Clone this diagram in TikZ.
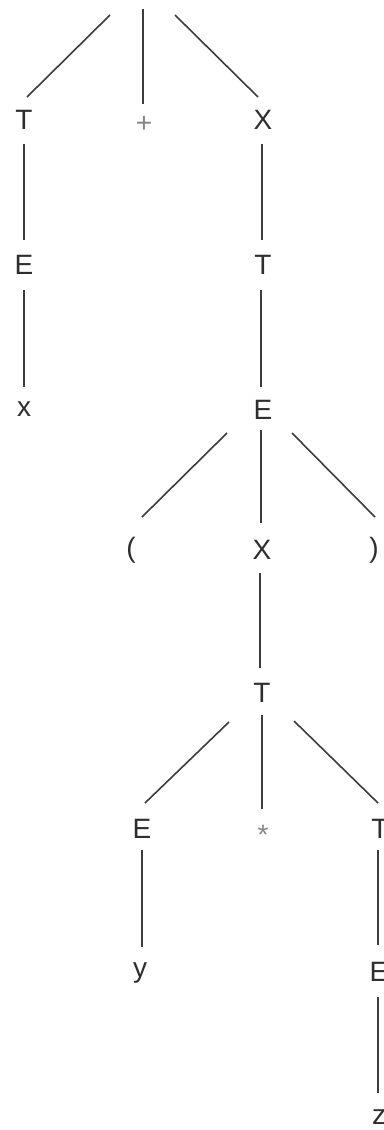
\documentclass[tikz,border=0pt]{standalone}
\usepackage{fontspec}
\setmainfont{Liberation Sans}
\usetikzlibrary{calc}
\definecolor{ink}{HTML}{2E2E2E}
\definecolor{linec}{HTML}{3C3C3C}
\definecolor{lightink}{HTML}{858585}
\begin{document}
\begin{tikzpicture}[x=1pt,y=-1pt,
  lbl/.style={font=\fontsize{28}{30}\selectfont, text=ink, inner sep=0pt, anchor=center},
  sym/.style={lbl, text=lightink},
  edge/.style={draw=linec, line width=1.6pt}]
\useasboundingbox (0,0) rectangle (383,1130);
\clip (0,0) rectangle (383,1130);
\coordinate (root) at (143,-10);
% row 1
\node[lbl] (T1) at (24,120) {T};
\node[sym] (plus) at (144,124) {+};
\node[lbl] (X1) at (263,120) {X};
% row 2
\node[lbl] (E1) at (24,265) {E};
\node[lbl] (T2) at (263,265) {T};
% row 3
\node[lbl] (x1) at (24,409) {x};
\node[lbl] (E2) at (263,410) {E};
% row 4
\node[lbl] (lp) at (131,550) {(};
\node[lbl] (X2) at (262,550) {X};
\node[lbl] (rp) at (374,550) {)};
% row 5
\node[lbl] (T3) at (262,693) {T};
% row 6
\node[lbl] (E3) at (142,829) {E};
\node[sym] (ast) at (263,835) {*};
\node[lbl] (T4) at (380,829) {T};
% row 7
\node[lbl] (y1) at (140,973) {y};
\node[lbl] (E4) at (379,972) {E};
% row 8
\node[lbl] (z1) at (379,1117) {z};
% edges
\draw[edge] ($(root)+(-33,25)$) -- ($(T1)+(3,-23)$);
\draw[edge] ($(root)+(0,19)$) -- ($(plus)+(-1,-20)$);
\draw[edge] ($(root)+(32,25)$) -- ($(X1)+(-5,-23)$);
\draw[edge] ($(T1)+(0,24)$) -- ($(E1)+(0,-25)$);
\draw[edge] ($(E1)+(0,25)$) -- ($(x1)+(0,-22)$);
\draw[edge] ($(X1)+(-1,24)$) -- ($(T2)+(-1,-25)$);
\draw[edge] ($(T2)+(-2,25)$) -- ($(E2)+(-2,-23)$);
\draw[edge] ($(E2)+(-36,23)$) -- ($(lp)+(11,-33)$);
\draw[edge] ($(E2)+(-2,20)$) -- ($(X2)+(-1,-27)$);
\draw[edge] ($(E2)+(29,23)$) -- ($(rp)+(1,-33)$);
\draw[edge] ($(X2)+(-2,23)$) -- ($(T3)+(-2,-25)$);
\draw[edge] ($(T3)+(-33,29)$) -- ($(E3)+(3,-26)$);
\draw[edge] ($(T3)+(0,22)$) -- ($(ast)+(-1,-26)$);
\draw[edge] ($(T3)+(32,28)$) -- ($(T4)+(-2,-26)$);
\draw[edge] ($(E3)+(0,21)$) -- ($(y1)+(2,-26)$);
\draw[edge] ($(T4)+(-2,21)$) -- ($(E4)+(-1,-27)$);
\draw[edge] ($(E4)+(-1,25)$) -- ($(z1)+(-1,-24)$);
\end{tikzpicture}
\end{document}
